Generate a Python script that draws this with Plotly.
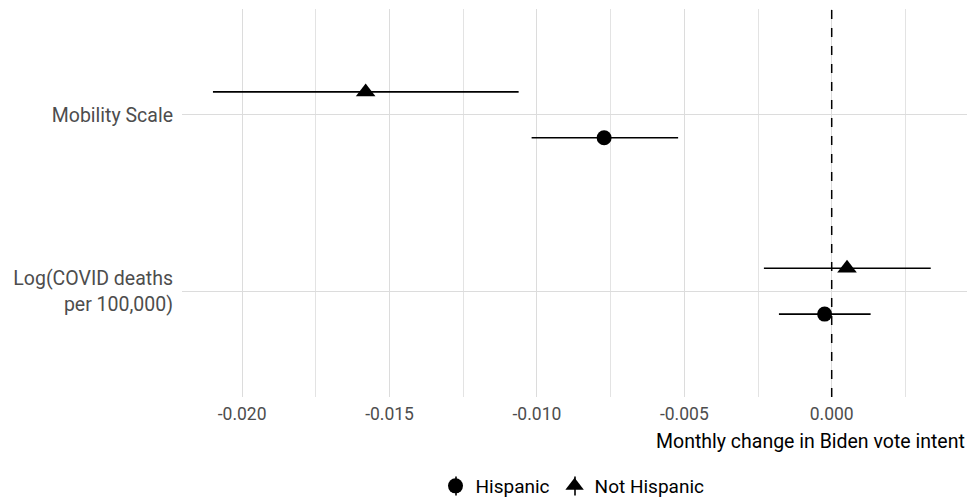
import plotly.graph_objects as go

# Predictors (bottom to top on the y axis)
predictors = ["Log(COVID deaths<br>per 100,000)", "Mobility Scale"]

# Coefficient estimates and 95% interval bounds by group
hisp_est = [-0.00024, -0.00772]
hisp_lo = [-0.00179, -0.01018]
hisp_hi = [0.00132, -0.00521]

nonhisp_est = [0.00052, -0.01581]
nonhisp_lo = [-0.00230, -0.02099]
nonhisp_hi = [0.00336, -0.01062]

x_ticks = [-0.020, -0.015, -0.010, -0.005, 0.000]
x_tick_labels = ["-0.020", "-0.015", "-0.010", "-0.005", "0.000"]

FONT = "Roboto"
dodge = 0.13
ypos = list(range(1, len(predictors) + 1))

W, H = 969, 502
ML, MR, MT, MB = 182, 2, 9, 105
PW, PH = W - ML - MR, H - MT - MB
LEGEND_CY = 486  # vertical centre of the legend row, px from top

fig = go.Figure()


def add_group(name, est, lo, hi, offset, symbol, size):
    fig.add_trace(go.Scatter(
        x=est,
        y=[p + offset for p in ypos],
        mode="markers",
        name=name,
        marker=dict(symbol=symbol, size=size, color="black"),
        error_x=dict(
            type="data",
            symmetric=False,
            array=[h - e for h, e in zip(hi, est)],
            arrayminus=[e - l for e, l in zip(est, lo)],
            color="black",
            thickness=1.6,
            width=0,
        ),
    ))


add_group("Hispanic", hisp_est, hisp_lo, hisp_hi, -dodge, "circle", 15)
add_group("Not Hispanic", nonhisp_est, nonhisp_lo, nonhisp_hi, dodge, "triangle-up", 17)

# Reference line at zero
fig.add_shape(type="line", xref="x", yref="paper", x0=0, x1=0, y0=0, y1=1,
              line=dict(color="black", width=1.5, dash="dash"), layer="above")

# Interval stroke through each legend key (point-range style keys)
for key_px in (456, 575):
    kx = (key_px - ML) / PW
    fig.add_shape(type="line", xref="paper", yref="paper",
                  x0=kx, x1=kx,
                  y0=(MT + PH - (LEGEND_CY - 9.5)) / PH,
                  y1=(MT + PH - (LEGEND_CY + 9.5)) / PH,
                  line=dict(color="black", width=1.6), layer="above")

fig.update_layout(
    width=W,
    height=H,
    margin=dict(l=ML, r=MR, t=MT, b=MB),
    paper_bgcolor="white",
    plot_bgcolor="white",
    font=dict(family=FONT, size=19, color="black"),
    showlegend=True,
    legend=dict(
        orientation="h",
        xref="paper", x=0.5 - 2 / PW, xanchor="center",
        yref="container", y=(H - LEGEND_CY) / H, yanchor="middle",
        bgcolor="rgba(0,0,0,0)",
        font=dict(family=FONT, size=19, color="black"),
        itemsizing="trace",
        traceorder="normal",
    ),
    xaxis=dict(
        range=[-0.02204, 0.00459],
        tickmode="array",
        tickvals=x_ticks,
        ticktext=x_tick_labels,
        tickfont=dict(family=FONT, size=17.5, color="#4d4d4d"),
        showgrid=True,
        gridcolor="#dcdcdc",
        gridwidth=1,
        minor=dict(dtick=0.0025, tick0=0, showgrid=True, gridcolor="#e3e3e3", gridwidth=1),
        zeroline=False,
        showline=False,
        ticks="",
        ticklabelstandoff=4,
        automargin=False,
    ),
    yaxis=dict(
        range=[0.4, 2.6],
        tickmode="array",
        tickvals=ypos,
        ticktext=predictors,
        tickfont=dict(family=FONT, size=19.5, color="#4d4d4d"),
        showgrid=True,
        gridcolor="#dcdcdc",
        gridwidth=1,
        zeroline=False,
        showline=False,
        ticks="",
        ticklabelstandoff=8,
        automargin=False,
    ),
)

fig.add_annotation(
    text="Monthly change in Biden vote intent",
    xref="paper", yref="paper",
    x=1, y=0, xanchor="right", yanchor="top", yshift=-31,
    showarrow=False,
    font=dict(family=FONT, size=19.5, color="black"),
)

fig.write_html("out.html")
